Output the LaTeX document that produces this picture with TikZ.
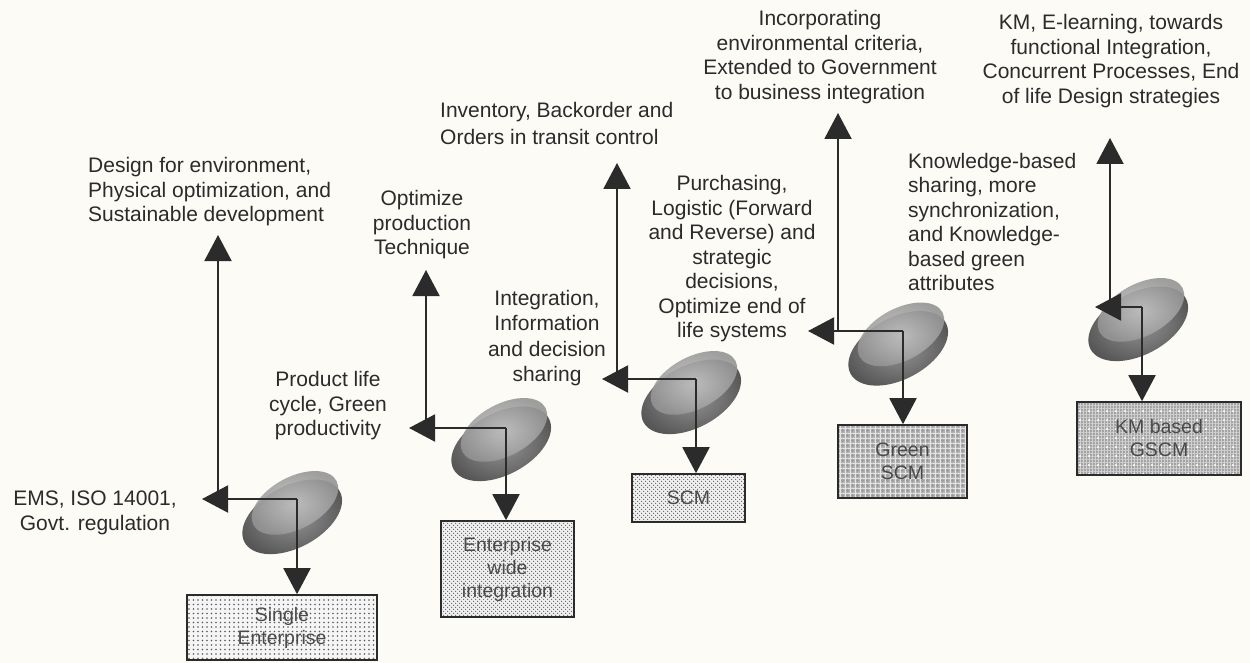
\documentclass[tikz,border=0pt]{standalone}
\usepackage{fontspec}
\setmainfont{Liberation Sans}
\usetikzlibrary{arrows.meta,patterns,patterns.meta}
\definecolor{ink}{HTML}{2B2B2B}
\definecolor{paper}{HTML}{FCFBF6}
\definecolor{boxtext}{HTML}{4A4A4A}

\begin{document}
\begin{tikzpicture}[x=1pt,y=-1pt,
  lbl/.style={inner sep=0pt, text=ink, font=\fontsize{21}{24.5}\selectfont},
  stagebox/.style={draw=ink, line width=1.6pt, inner sep=0pt, align=center,
    text=boxtext, font=\fontsize{19.5}{23}\selectfont},
  dotbox/.style={stagebox, fill=black!4, path picture={
    \fill[pattern={Dots[distance=4.5pt,radius=.8pt]}, pattern color=black!65]
      (path picture bounding box.south west) rectangle (path picture bounding box.north east);}},
  densebox/.style={stagebox, fill=black!6, path picture={
    \fill[pattern={Dots[distance=4pt,radius=.85pt]}, pattern color=black!60]
      (path picture bounding box.south west) rectangle (path picture bounding box.north east);
    \fill[pattern={Dots[distance=4pt,radius=.85pt,xshift=2pt,yshift=2pt]}, pattern color=black!60]
      (path picture bounding box.south west) rectangle (path picture bounding box.north east);}},
  crossbox/.style={stagebox, fill=black!30, path picture={
    \fill[pattern={Lines[angle=0,distance=5pt,line width=.9pt]}, pattern color=white!90!black]
      (path picture bounding box.south west) rectangle (path picture bounding box.north east);
    \fill[pattern={Lines[angle=90,distance=5pt,line width=.9pt]}, pattern color=white!90!black]
      (path picture bounding box.south west) rectangle (path picture bounding box.north east);
    \fill[pattern={Dots[distance=5pt,radius=1.3pt,xshift=2.5pt,yshift=2.5pt]}, pattern color=black!40]
      (path picture bounding box.south west) rectangle (path picture bounding box.north east);}},
  gridbox/.style={stagebox, fill=black!36, path picture={
    \fill[pattern={Lines[angle=0,distance=3pt,line width=.6pt]}, pattern color=black!18]
      (path picture bounding box.south west) rectangle (path picture bounding box.north east);
    \fill[pattern={Lines[angle=90,distance=3pt,line width=.6pt]}, pattern color=black!18]
      (path picture bounding box.south west) rectangle (path picture bounding box.north east);
    \fill[pattern={Dots[distance=9pt,radius=1.1pt]}, pattern color=white]
      (path picture bounding box.south west) rectangle (path picture bounding box.north east);}},
  arr/.style={draw=ink, line width=2pt, -{Triangle[length=26pt,width=27pt]}},
  pics/pebble/.style={code={
    \shade[rotate=28, inner color=black!42, outer color=black!66] (-3,5) ellipse [x radius=54, y radius=31];
    \shade[rotate=28, inner color=black!24, outer color=black!42, opacity=.9] (6,-6) ellipse [x radius=47, y radius=26];
  }}
]
% page
\fill[paper] (0,0) rectangle (1250,663);

% pebbles of the five stages
\pic (p1) at (292.5,511) {pebble};
\pic (p2) at (501.5,438) {pebble};
\pic (p3) at (691.5,391) {pebble};
\pic (p4) at (898.5,342.5) {pebble};
\pic (p5) at (1138.5,318) {pebble};

% stage boxes
\node[dotbox, minimum width=190pt, minimum height=65pt] (box1) at (282,627.5) {Single\\Enterprise};
\node[densebox, minimum width=133pt, minimum height=96pt] (box2) at (507.5,569) {Enterprise\\wide\\integration};
\node[densebox, minimum width=113pt, minimum height=48pt] (box3) at (688.5,498) {SCM};
\node[crossbox, minimum width=129pt, minimum height=73pt] (box4) at (902.5,461.5) {Green\\SCM};
\node[gridbox, minimum width=164pt, minimum height=73pt] (box5) at (1159,438.5) {KM based\\GSCM};

% upper labels
\node[lbl, anchor=west, align=left] (up1) at (88,192) {Design for environment,\\Physical optimization, and\\Sustainable development};
\node[lbl, align=center] (up2) at (422,225) {Optimize\\production\\Technique};
\node[lbl, anchor=west, align=left, font=\fontsize{21}{27}\selectfont] (up3) at (440,123) {Inventory, Backorder and\\Orders in transit control};
\node[lbl, align=center] (up4) at (820,57) {Incorporating\\environmental criteria,\\Extended to Government\\to business integration};
\node[lbl, align=center] (up5) at (1111,61) {KM, E-learning, towards\\functional Integration,\\Concurrent Processes, End\\of life Design strategies};

% side labels
\node[lbl, align=center] (side1) at (95,513) {EMS, ISO 14001,\\Govt. regulation};
\node[lbl, align=center] (side2) at (328,406) {Product life\\cycle, Green\\productivity};
\node[lbl, align=center, font=\fontsize{21}{25.5}\selectfont] (side3) at (547,338) {Integration,\\Information\\and decision\\sharing};
\node[lbl, align=center] (side4) at (732,259) {Purchasing,\\Logistic (Forward\\and Reverse) and\\strategic\\decisions,\\Optimize end of\\life systems};
\node[lbl, anchor=west, align=left] (side5) at (908,222) {Knowledge-based\\sharing, more\\synchronization,\\and Knowledge-\\based green\\attributes};

% junctions and arrow tips
\coordinate (c1) at (218,499);  \coordinate (d1) at (297,499);  \coordinate (l1) at (202,499);  \coordinate (u1) at (218,235);
\coordinate (c2) at (426,428);  \coordinate (d2) at (506,428);  \coordinate (l2) at (409,428);  \coordinate (u2) at (426,270);
\coordinate (c3) at (617,379);  \coordinate (d3) at (696,379);  \coordinate (l3) at (602,379);  \coordinate (u3) at (617,163);
\coordinate (c4) at (838,331);  \coordinate (d4) at (903,331);  \coordinate (l4) at (808,331);  \coordinate (u4) at (838,113);
\coordinate (c5) at (1110,307); \coordinate (d5) at (1142,307); \coordinate (l5) at (1095,307); \coordinate (u5) at (1110,138);

% connectors
\foreach \i in {1,...,5}{
  \draw[arr] (c\i) -- (u\i);
  \draw[arr] (d\i) -- (l\i);
  \draw[arr] (d\i) -- (d\i |- box\i.north);
}
\end{tikzpicture}
\end{document}
